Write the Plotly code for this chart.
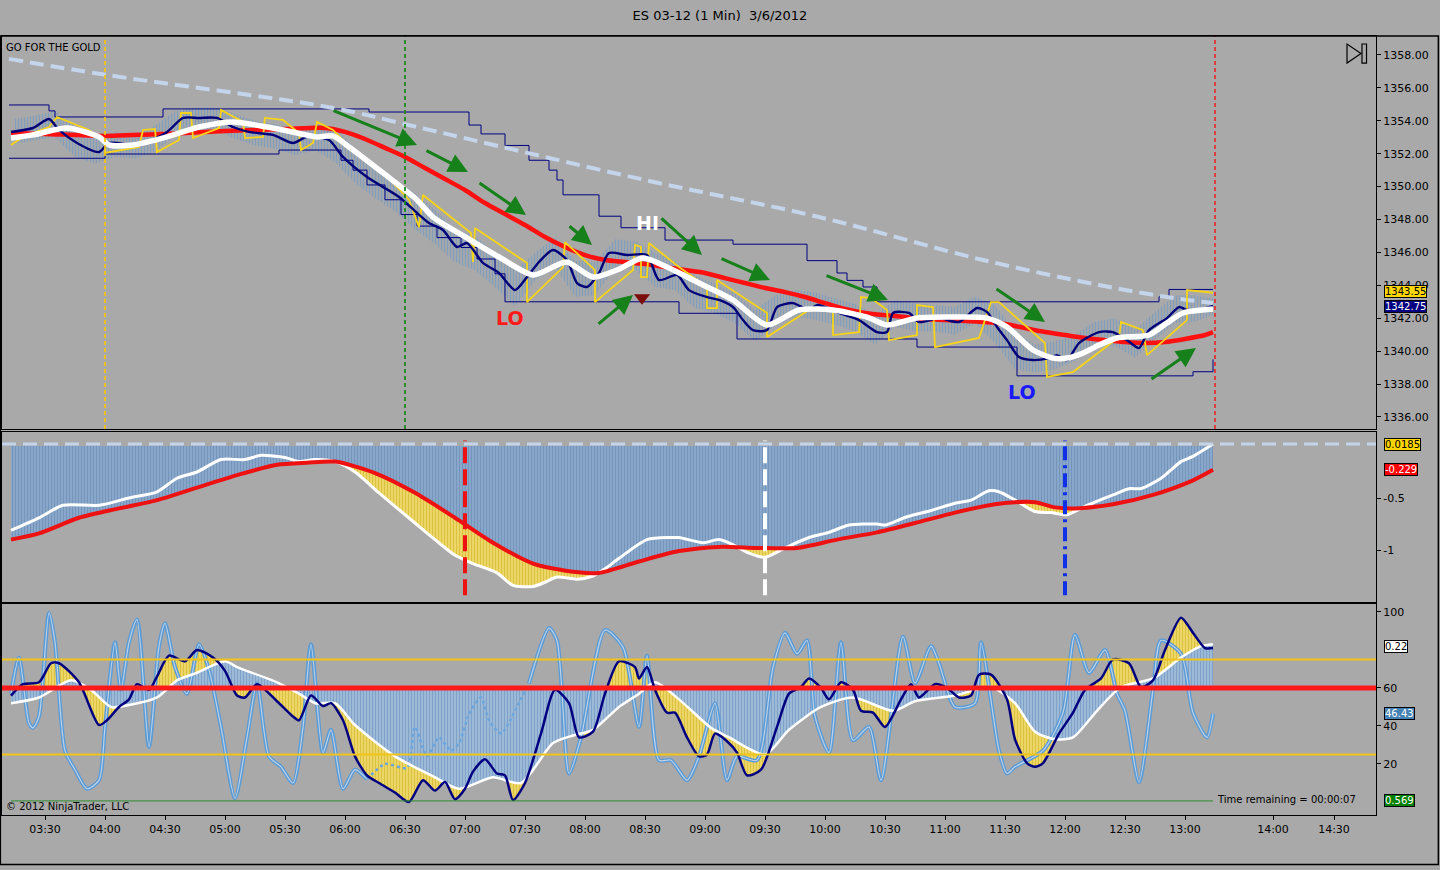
import plotly.graph_objects as go
from plotly.subplots import make_subplots

DAY = "2012-03-06 "

# ---------------- price panel ----------------
nav_t = ["03:13","03:24","03:32","03:37","03:46","03:57","04:02","04:17","04:31","04:39","04:47","04:56","05:04","05:12","05:24","05:34","05:41","05:52","05:59","06:11","06:27","06:36","06:42","06:49","06:56","07:01","07:09","07:17","07:25","07:31","07:37","07:44","07:51","07:56","08:01","08:07","08:12","08:21","08:31","08:37","08:46","08:52","09:01","09:07","09:14","09:19","09:24","09:31","09:36","09:44","09:52","09:56","10:07","10:17","10:26","10:31","10:34","10:42","10:47","10:57","11:07","11:16","11:21","11:26","11:31","11:37","11:44","11:52","11:56","12:01","12:07","12:17","12:24","12:31","12:37","12:42","12:51","12:57","13:01","13:07","13:14"]
nav_p = [1353.32,1353.56,1354.11,1353.44,1352.65,1352.10,1352.65,1352.53,1353.32,1354.17,1354.17,1354.17,1353.62,1353.32,1353.14,1352.65,1353.02,1352.83,1351.80,1350.58,1349.37,1348.40,1347.79,1347.36,1346.33,1346.57,1345.36,1344.75,1343.71,1344.50,1345.42,1346.15,1345.54,1344.14,1343.90,1344.75,1345.96,1345.84,1345.84,1344.32,1344.63,1343.71,1343.29,1343.11,1342.68,1341.89,1341.28,1341.28,1342.68,1342.92,1342.50,1342.80,1342.32,1341.89,1341.16,1341.16,1342.32,1342.32,1341.77,1342.01,1341.77,1342.62,1342.38,1341.47,1340.67,1339.64,1339.46,1339.58,1339.76,1339.46,1340.49,1341.16,1341.16,1340.67,1340.19,1341.28,1342.01,1342.68,1342.50,1342.50,1342.75]

wht_t = ["03:13","03:24","03:41","03:57","04:02","04:14","04:31","04:47","05:04","05:21","05:29","05:46","05:54","06:02","06:19","06:36","06:44","07:01","07:17","07:34","07:46","07:51","08:04","08:16","08:29","08:41","08:57","09:14","09:31","09:47","10:04","10:21","10:31","10:46","11:02","11:21","11:31","11:44","11:54","12:01","12:09","12:17","12:26","12:42","12:51","12:59","13:14"]
wht_p = [1352.95,1353.14,1353.56,1353.02,1352.53,1352.53,1353.02,1353.62,1353.93,1353.62,1353.44,1353.02,1353.08,1352.41,1350.83,1349.19,1348.15,1346.88,1345.72,1344.63,1345.23,1345.42,1344.50,1344.93,1345.66,1345.11,1344.14,1343.11,1341.59,1342.50,1342.50,1342.07,1341.59,1342.01,1342.07,1342.01,1341.47,1340.07,1339.58,1339.58,1339.88,1340.37,1340.80,1340.98,1341.71,1342.32,1342.56]

red_t = ["03:13","03:30","04:00","04:30","05:00","05:30","05:50","06:00","06:10","06:20","06:30","06:40","06:50","07:00","07:10","07:20","07:30","07:40","07:50","08:00","08:10","08:20","08:30","08:40","08:50","09:00","09:10","09:20","09:30","09:40","09:50","10:00","10:10","10:20","10:30","10:40","10:50","11:00","11:10","11:20","11:30","11:40","11:50","12:00","12:10","12:20","12:30","12:40","12:50","13:00","13:10","13:14"]
red_p = [1353.26,1353.20,1353.08,1353.20,1353.38,1353.50,1353.56,1353.32,1352.89,1352.35,1351.80,1351.13,1350.46,1349.79,1349.00,1348.33,1347.67,1346.94,1346.33,1345.84,1345.54,1345.42,1345.29,1345.11,1344.93,1344.75,1344.44,1344.14,1343.84,1343.59,1343.29,1342.92,1342.56,1342.32,1342.19,1342.07,1341.95,1341.89,1341.83,1341.77,1341.65,1341.40,1341.16,1340.98,1340.80,1340.67,1340.55,1340.49,1340.55,1340.74,1340.98,1341.16]

yel_t = ["03:13","03:19","03:32","03:36","03:52","04:00","04:00","04:17","04:19","04:25","04:26","04:37","04:38","04:43","04:44","04:57","04:58","05:09","05:10","05:19","05:20","05:29","05:37","05:38","05:44","05:46","05:54","06:04","06:19","06:32","06:37","06:39","07:03","07:04","07:05","07:31","07:31","07:49","07:50","08:05","08:05","08:24","08:25","08:28","08:28","08:31","08:32","08:47","09:01","09:01","09:06","09:06","09:31","09:31","09:52","10:04","10:04","10:17","10:18","10:23","10:31","10:32","10:46","10:46","10:54","10:55","11:17","11:23","11:27","11:50","11:51","12:04","12:27","12:28","12:39","12:41","13:01","13:01","13:14"]
yel_p = [1352.53,1353.02,1353.62,1354.23,1353.44,1352.65,1352.04,1352.41,1353.44,1353.50,1352.10,1352.83,1354.47,1354.47,1352.95,1353.56,1354.66,1353.93,1352.95,1353.02,1354.17,1354.05,1353.26,1352.22,1352.65,1353.93,1353.44,1352.22,1350.89,1349.19,1347.54,1349.49,1347.18,1345.42,1347.48,1345.36,1342.98,1345.11,1346.63,1344.93,1342.98,1344.93,1346.45,1346.33,1344.50,1344.50,1346.57,1345.11,1343.90,1342.62,1342.62,1344.32,1342.32,1340.86,1342.50,1342.50,1340.98,1341.16,1343.29,1343.23,1342.50,1340.67,1340.98,1342.80,1342.68,1340.25,1340.80,1342.98,1342.98,1340.49,1338.43,1338.73,1340.86,1341.77,1341.28,1339.76,1341.89,1343.71,1343.55]

chan_up_t = ["03:12","03:32","03:35","04:29","06:12","07:02","07:08","07:20","07:32","07:42","07:46","07:49","08:07","08:18","08:40","09:14","09:51","10:06","10:11","10:19","10:26","12:47","12:52","13:14"]
chan_up_p = [1354.96,1354.60,1354.23,1354.72,1354.53,1353.74,1353.20,1352.50,1351.60,1351.00,1350.40,1349.50,1348.20,1347.50,1346.75,1346.50,1345.50,1344.75,1344.30,1343.90,1343.00,1343.30,1343.75,1343.75]
chan_lo_t = ["03:12","04:00","05:27","05:58","06:04","06:11","06:20","06:28","06:36","06:46","06:58","07:06","07:15","07:20","08:47","09:16","10:46","11:36","13:04","13:14"]
chan_lo_p = [1351.72,1351.98,1352.22,1351.60,1351.00,1350.10,1349.20,1348.30,1347.60,1346.90,1346.30,1345.60,1344.70,1343.00,1342.30,1340.74,1340.25,1338.50,1338.75,1339.50]

dash_t = ["03:12","04:01","05:54","06:36","08:30","09:57","11:19","12:17","12:51","13:14"]
dash_p = [1357.76,1356.78,1354.78,1353.62,1350.40,1348.15,1345.54,1344.02,1343.29,1342.92]

bar_t = ["03:15","03:25","03:35","03:45","03:55","04:05","04:15","04:25","04:35","04:45","04:55","05:05","05:15","05:25","05:35","05:45","05:55","06:05","06:15","06:25","06:35","06:45","06:55","07:05","07:15","07:25","07:35","07:45","07:55","08:05","08:15","08:25","08:35","08:45","08:55","09:05","09:15","09:25","09:35","09:45","09:55","10:05","10:15","10:25","10:35","10:45","10:55","11:05","11:15","11:25","11:35","11:45","11:55","12:05","12:15","12:25","12:35","12:45","12:55","13:05","13:14"]
bar_hi = [1354.1,1354.3,1354.6,1353.6,1352.9,1353.3,1353.2,1353.7,1354.6,1354.8,1354.8,1354.4,1354.0,1353.8,1353.5,1353.8,1353.6,1352.3,1351.2,1350.4,1349.6,1348.6,1347.4,1347.0,1346.0,1344.9,1346.0,1346.9,1345.5,1345.4,1346.8,1346.7,1346.0,1345.5,1344.6,1344.1,1343.5,1342.5,1343.4,1343.7,1343.6,1343.2,1342.9,1342.2,1343.1,1342.9,1342.8,1342.7,1343.3,1342.8,1341.2,1340.4,1340.6,1341.0,1341.8,1342.0,1341.3,1342.4,1343.4,1343.4,1343.2]
bar_lo = [1352.6,1352.8,1353.0,1351.8,1351.4,1351.8,1351.7,1352.1,1353.1,1353.5,1353.5,1352.9,1352.5,1352.3,1351.9,1352.2,1351.5,1350.2,1349.3,1348.5,1347.4,1346.5,1345.4,1344.9,1343.9,1342.7,1344.3,1345.1,1343.3,1343.4,1345.0,1345.0,1343.9,1343.7,1342.6,1342.3,1341.7,1340.6,1341.5,1342.1,1341.9,1341.6,1341.2,1340.4,1341.5,1341.2,1341.2,1341.0,1341.7,1340.5,1338.9,1338.7,1338.9,1339.4,1340.3,1340.3,1339.6,1340.7,1341.7,1341.8,1342.2]

# ---------------- middle panel ----------------
mid_w_t = ["03:13","03:27","03:39","03:57","04:12","04:26","04:36","04:46","04:58","05:10","05:18","05:30","05:37","05:45","05:55","06:05","06:17","06:35","06:45","06:55","07:04","07:16","07:24","07:34","07:40","07:46","07:56","08:04","08:10","08:17","08:31","08:43","08:47","08:59","09:07","09:14","09:22","09:30","09:40","09:52","10:02","10:12","10:26","10:30","10:41","10:53","11:05","11:13","11:22","11:27","11:35","11:45","11:53","12:01","12:10","12:24","12:32","12:38","12:48","12:58","13:04","13:14"]
mid_w_v = [-0.81,-0.69,-0.57,-0.57,-0.50,-0.44,-0.31,-0.25,-0.13,-0.13,-0.09,-0.11,-0.15,-0.13,-0.15,-0.25,-0.45,-0.74,-0.90,-1.05,-1.13,-1.22,-1.34,-1.35,-1.31,-1.26,-1.28,-1.25,-1.18,-1.08,-0.90,-0.88,-0.88,-0.93,-0.90,-0.95,-1.03,-1.07,-0.98,-0.88,-0.83,-0.76,-0.75,-0.76,-0.68,-0.62,-0.55,-0.52,-0.43,-0.44,-0.52,-0.63,-0.64,-0.66,-0.58,-0.47,-0.41,-0.41,-0.31,-0.15,-0.10,0.0185]
mid_r_t = ["03:13","03:27","03:47","04:07","04:26","04:46","05:06","05:26","05:41","05:55","06:15","06:35","06:55","07:14","07:34","07:54","08:07","08:27","08:47","09:07","09:26","09:46","10:06","10:26","10:45","11:05","11:25","11:35","11:45","11:55","12:05","12:24","12:44","13:04","13:14"]
mid_r_v = [-0.90,-0.84,-0.69,-0.60,-0.52,-0.40,-0.28,-0.18,-0.16,-0.15,-0.26,-0.45,-0.69,-0.93,-1.13,-1.21,-1.22,-1.11,-1.01,-0.97,-0.98,-0.98,-0.90,-0.83,-0.74,-0.64,-0.56,-0.54,-0.54,-0.59,-0.60,-0.56,-0.47,-0.33,-0.229]

# ---------------- lower panel ----------------
osc_n_t = ["03:13","03:19","03:27","03:33","03:37","03:47","03:57","04:01","04:07","04:12","04:16","04:22","04:26","04:32","04:40","04:46","04:54","05:00","05:06","05:10","05:16","05:26","05:34","05:37","05:43","05:49","05:53","05:59","06:05","06:11","06:17","06:25","06:32","06:39","06:45","06:50","06:55","07:00","07:04","07:10","07:16","07:20","07:24","07:30","07:38","07:45","07:52","07:57","08:04","08:10","08:17","08:25","08:27","08:31","08:35","08:41","08:45","08:51","08:57","09:01","09:05","09:11","09:16","09:21","09:28","09:36","09:42","09:48","09:52","09:58","10:02","10:08","10:14","10:18","10:24","10:30","10:38","10:43","10:47","10:55","11:01","11:07","11:13","11:17","11:23","11:31","11:35","11:41","11:45","11:49","11:57","12:04","12:10","12:18","12:24","12:32","12:38","12:44","12:50","12:58","13:04","13:10","13:14"]
osc_n_v = [56,62,63,73,73,63,40.5,43,50,54,62,59,66,77,74,80,76,69,56,55,62,53,45,43,56,50.5,52,43,24,14,10,5,0,11.5,6,10.5,1.5,7,16,22.5,15,14,1,10,36,59,52,34,37,57,74,71,65,71,59,47,47,34,24,25,36,32,26,14,17,39.5,57,60.5,65,60,54,63,59,48,47,39.5,54,62,55,62,60,55,56,67,67,54,33,20.5,18.5,20.5,36,47,59,65,75,73,60.5,64,80,97,89,81,81]
osc_w_t = ["03:13","03:27","03:43","03:53","04:03","04:12","04:26","04:36","04:46","05:00","05:06","05:26","05:37","05:45","05:55","06:05","06:25","06:45","06:57","07:14","07:28","07:44","07:54","08:04","08:17","08:27","08:35","08:47","09:03","09:12","09:30","09:42","09:58","10:14","10:34","10:45","11:05","11:23","11:35","11:45","11:55","12:04","12:16","12:28","12:44","12:58","13:08","13:14"]
osc_w_v = [52,55,64,59,50,51,55,64,68,74,71,63,57,52,52,40.5,24,13,7,13,10,31,35,38,50,57,63,54,39,34,25,38,50,55,48,53,56,60.5,52,37,33,34,48,60.5,65,76,82,83]

fast_a_t = ["03:13","03:17","03:22","03:24","03:27","03:32","03:35","03:40","03:45","03:51","03:57","04:00","04:05","04:08","04:12","04:16","04:22","04:27","04:30","04:35","04:41","04:47","04:52","04:58","05:05","05:11","05:16","05:22","05:28","05:34","05:39","05:43","05:49","05:53","05:59","06:05","06:11"]
fast_a_v = [57,76,41.5,39,45,99.5,84,27,17,7,11.5,39.5,84,59,84,96,29,82,94,71,57,83,69.5,39.5,2,34,62.5,24,18.5,10,39.5,83,26,38,7,17,12]
fast_dot_t = ["06:11","06:20","06:31","06:35","06:41","06:47","06:53","06:57","07:02","07:08","07:12","07:18","07:25","07:32"]
fast_dot_v = [12,20,18,39.5,24,34,27,31,46,55,43,36,48,62.5]
fast_b_t = ["07:32","07:42","07:46","07:52","07:58","08:10","08:19","08:27","08:31","08:37","08:43","08:51","08:57","09:05","09:11","09:16","09:26","09:34","09:40","09:46","09:51","09:55","10:02","10:08","10:14","10:22","10:28","10:39","10:45","10:53","10:57","11:05","11:15","11:18","11:27","11:31","11:35","11:49","11:59","12:05","12:12","12:20","12:26","12:30","12:37","12:44","12:48","12:58","13:04","13:11","13:14"]
fast_b_v = [62.5,91.5,85,15,34,90.5,81.5,39.5,77,22,22,11.5,24,52,11.5,24,22,71,89,78,85,45,26,84,32.5,39.5,11.5,87,62.5,82,73,50,52,84,27,15,18.5,27,47,88,68,80,57,48,10.5,59,85,78,47,34,46.43]

tick_pos = ["03:30","04:00","04:30","05:00","05:30","06:00","06:30","07:00","07:30","08:00","08:30","09:00","09:30","10:00","10:30","11:00","11:30","12:00","12:30","13:00","13:44","14:14:30"]
tick_txt = ["03:30","04:00","04:30","05:00","05:30","06:00","06:30","07:00","07:30","08:00","08:30","09:00","09:30","10:00","10:30","11:00","11:30","12:00","12:30","13:00","14:00","14:30"]


def ts(lst):
    return [DAY + s for s in lst]


BG = "#a9a9a9"
FONT = "DejaVu Sans"
SM = 0.7  # spline smoothing for the indicator curves

fig = make_subplots(rows=3, cols=1, shared_xaxes=True, vertical_spacing=0.004)

# ---- top panel ----
fig.add_trace(go.Scatter(x=ts(bar_t), y=bar_hi, mode="lines", line=dict(width=0),
                         hoverinfo="skip"), row=1, col=1)
fig.add_trace(go.Scatter(x=ts(bar_t), y=bar_lo, mode="lines", line=dict(width=0),
                         fill="tonexty", fillcolor="rgba(0,0,0,0)",
                         fillpattern=dict(shape="|", fgcolor="#5d93cf", bgcolor="rgba(0,0,0,0)",
                                          size=3, solidity=0.45),
                         hoverinfo="skip"), row=1, col=1)
for tt, pp in ((chan_up_t, chan_up_p), (chan_lo_t, chan_lo_p)):
    fig.add_trace(go.Scatter(x=ts(tt), y=pp, mode="lines", line=dict(color="#000080", width=1, shape="hv")),
                  row=1, col=1)
fig.add_trace(go.Scatter(x=ts(dash_t), y=dash_p, mode="lines",
                         line=dict(color="#c4d4ea", width=4, dash="14px,7px", shape="spline")), row=1, col=1)
fig.add_trace(go.Scatter(x=ts(red_t), y=red_p, mode="lines",
                         line=dict(color="#ff1010", width=4.5, shape="spline", smoothing=SM)), row=1, col=1)
fig.add_trace(go.Scatter(x=ts(yel_t), y=yel_p, mode="lines", line=dict(color="#f7d417", width=1.8)),
              row=1, col=1)
fig.add_trace(go.Scatter(x=ts(nav_t), y=nav_p, mode="lines",
                         line=dict(color="#000078", width=2.4, shape="spline", smoothing=SM)), row=1, col=1)
fig.add_trace(go.Scatter(x=ts(wht_t), y=wht_p, mode="lines",
                         line=dict(color="#ffffff", width=5.5, shape="spline", smoothing=SM)), row=1, col=1)
fig.add_trace(go.Scatter(x=[DAY + "08:28:30"], y=[1343.25], mode="markers",
                         marker=dict(symbol="triangle-down", size=14, color="#7a0c0c")), row=1, col=1)

# ---- middle panel ----
fig.add_trace(go.Scatter(x=ts(mid_w_t), y=mid_w_v, mode="lines",
                         line=dict(width=0, shape="spline", smoothing=SM), hoverinfo="skip"), row=2, col=1)
fig.add_trace(go.Scatter(x=ts(mid_r_t), y=mid_r_v, mode="lines",
                         line=dict(width=0, shape="spline", smoothing=SM), fill="tonexty",
                         fillcolor="#e9d25e",
                         fillpattern=dict(shape="|", fgcolor="#c9a91c", bgcolor="#ecd766", size=3, solidity=0.35),
                         hoverinfo="skip"), row=2, col=1)
fig.add_trace(go.Scatter(x=ts(mid_r_t), y=[0] * len(mid_r_t), mode="lines", line=dict(width=0),
                         hoverinfo="skip"), row=2, col=1)
fig.add_trace(go.Scatter(x=ts(mid_r_t), y=mid_r_v, mode="lines",
                         line=dict(width=0, shape="spline", smoothing=SM), fill="tonexty",
                         fillcolor="#86a6c8",
                         fillpattern=dict(shape="|", fgcolor="#5a7ca3", bgcolor="#8eadcf", size=3, solidity=0.5),
                         hoverinfo="skip"), row=2, col=1)
fig.add_trace(go.Scatter(x=ts(mid_w_t), y=mid_w_v, mode="lines",
                         line=dict(color="#ffffff", width=3, shape="spline", smoothing=SM)), row=2, col=1)
fig.add_trace(go.Scatter(x=ts(mid_r_t), y=mid_r_v, mode="lines",
                         line=dict(color="#ee1111", width=4, shape="spline", smoothing=SM)), row=2, col=1)

# ---- lower panel ----
fig.add_trace(go.Scatter(x=ts(osc_n_t), y=osc_n_v, mode="lines",
                         line=dict(width=0, shape="spline", smoothing=SM), hoverinfo="skip"), row=3, col=1)
fig.add_trace(go.Scatter(x=ts(osc_w_t), y=osc_w_v, mode="lines",
                         line=dict(width=0, shape="spline", smoothing=SM), fill="tonexty",
                         fillcolor="#e9d25e",
                         fillpattern=dict(shape="|", fgcolor="#c9a91c", bgcolor="#ecd766", size=3, solidity=0.35),
                         hoverinfo="skip"), row=3, col=1)
fig.add_trace(go.Scatter(x=ts(osc_w_t), y=[60] * len(osc_w_t), mode="lines", line=dict(width=0),
                         hoverinfo="skip"), row=3, col=1)
fig.add_trace(go.Scatter(x=ts(osc_w_t), y=osc_w_v, mode="lines",
                         line=dict(width=0, shape="spline", smoothing=SM), fill="tonexty",
                         fillcolor="#8fb0d3",
                         fillpattern=dict(shape="|", fgcolor="#5984b5", bgcolor="#a6c1dd", size=3, solidity=0.5),
                         hoverinfo="skip"), row=3, col=1)
for tt, vv in ((fast_a_t, fast_a_v), (fast_b_t, fast_b_v)):
    fig.add_trace(go.Scatter(x=ts(tt), y=vv, mode="lines",
                             line=dict(color="#5b9bd5", width=4, shape="spline", smoothing=SM)), row=3, col=1)
    fig.add_trace(go.Scatter(x=ts(tt), y=vv, mode="lines",
                             line=dict(color="#bcd2e8", width=1.2, shape="spline", smoothing=SM)), row=3, col=1)
fig.add_trace(go.Scatter(x=ts(fast_dot_t), y=fast_dot_v, mode="lines",
                         line=dict(color="#6aa6dc", width=2.5, dash="dot", shape="spline", smoothing=SM)),
              row=3, col=1)
fig.add_trace(go.Scatter(x=ts(osc_w_t), y=osc_w_v, mode="lines",
                         line=dict(color="#ffffff", width=2.5, shape="spline", smoothing=SM)), row=3, col=1)
fig.add_trace(go.Scatter(x=ts(osc_n_t), y=osc_n_v, mode="lines",
                         line=dict(color="#000080", width=2.5, shape="spline", smoothing=SM)), row=3, col=1)

# ---- reference lines ----
vlines_top = [("04:00", "#f2c418"), ("06:30", "#1f8a1f"), ("13:15", "#e23333")]
for t, c in vlines_top:
    fig.add_shape(type="line", xref="x", yref="y domain", x0=DAY + t, x1=DAY + t, y0=0, y1=1,
                  line=dict(color=c, width=1.8, dash="4px,3px"))
vlines_mid = [("07:00", "#ee1111", "16px,6px"), ("09:30", "#ffffff", "16px,6px"),
              ("12:00", "#1030e8", "14px,5px,3px,5px")]
for t, c, d in vlines_mid:
    fig.add_shape(type="line", xref="x2", yref="y2 domain", x0=DAY + t, x1=DAY + t, y0=0.04, y1=0.95,
                  line=dict(color=c, width=4, dash=d))
fig.add_shape(type="line", xref="x2 domain", yref="y2", x0=0, x1=1, y0=0.0185, y1=0.0185,
              line=dict(color="#c4d4ea", width=3, dash="14px,7px"))
for yv, c, w in ((75, "#f2c418", 2), (25, "#f2c418", 2), (60, "#ff1a1a", 5)):
    fig.add_shape(type="line", xref="x3 domain", yref="y3", x0=0, x1=1, y0=yv, y1=yv,
                  line=dict(color=c, width=w))
fig.add_shape(type="line", xref="x3", yref="y3", x0=DAY + "03:13", x1=DAY + "13:14", y0=0.569, y1=0.569,
              line=dict(color="#2e8b2e", width=1))

# ---- arrows & labels on price panel ----
arrows = [("06:36", 1352.53, -85, -35), ("07:01:30", 1350.89, -43, -22), ("07:30:30", 1348.27, -48, -33),
          ("08:03:30", 1346.45, -24, -20), ("08:24", 1343.41, -36, 30), ("08:58:30", 1345.84, -42, -38),
          ("09:32:30", 1344.32, -50, -22), ("10:31:30", 1343.11, -63, -25), ("11:50", 1341.77, -50, -34),
          ("13:05:30", 1340.19, -46, 32)]
for t, p, ax, ay in arrows:
    fig.add_annotation(x=DAY + t, y=p, xref="x", yref="y", ax=ax, ay=ay, text="", showarrow=True,
                       arrowhead=2, arrowsize=1.3, arrowwidth=3, arrowcolor="#16801a")
for txt, t, p, c in (("LO", "07:22:30", 1342.0, "#ff1a1a"), ("HI", "08:31", 1347.8, "#ffffff"),
                     ("LO", "11:38:30", 1337.5, "#1a1aff")):
    fig.add_annotation(x=DAY + t, y=p, xref="x", yref="y", text="<b>" + txt + "</b>", showarrow=False,
                       font=dict(family=FONT, size=19, color=c))

# ---- value flags on the right ----
flags = [("y", 1343.55, "1343.55", "#ffd700", "black", 1), ("y", 1342.75, "1342.75", "#000080", "white", -1),
         ("y2", 0.0185, "0.0185", "#ffd700", "black", 0), ("y2", -0.229, "-0.229", "#ff0000", "white", 0),
         ("y3", 82, "0.22", "#ffffff", "black", 0), ("y3", 46.43, "46.43", "#4682b4", "white", 0),
         ("y3", 0.569, "0.569", "#008000", "white", 0)]
for yr, v, txt, bg, fc, dy in flags:
    fig.add_annotation(x=1, y=v, xref="paper", yref=yr, xanchor="left", xshift=8, yshift=dy, text=txt,
                       showarrow=False, bgcolor=bg, bordercolor="black", borderwidth=1, borderpad=0,
                       font=dict(family=FONT, size=10, color=fc))

fig.add_annotation(x=0.0015, y=0.995, xref="paper", yref="paper", xanchor="left", yanchor="top",
                   text="GO FOR THE GOLD", showarrow=False, font=dict(family=FONT, size=10, color="black"))
fig.add_annotation(x=0.0015, y=0.0103, xref="paper", yref="paper", xanchor="left", yanchor="middle",
                   text="© 2012 NinjaTrader, LLC", showarrow=False, font=dict(family=FONT, size=10, color="black"))
fig.add_annotation(x=0.8828, y=0.0193, xref="paper", yref="paper", xanchor="left", yanchor="middle",
                   text="Time remaining = 00:00:07", showarrow=False, font=dict(family=FONT, size=10, color="black"))

# "jump to end" icon
fig.add_shape(type="path", xref="paper", yref="paper", path="M 0.9789 0.9897 L 0.9789 0.9653 L 0.9891 0.9775 Z",
              line=dict(color="black", width=1.2))
fig.add_shape(type="rect", xref="paper", yref="paper", x0=0.9898, x1=0.9931, y0=0.9653, y1=0.9897,
              line=dict(color="black", width=1.2))
# outer frame
fig.add_shape(type="rect", xref="paper", yref="paper", x0=-0.0012, x1=1.0454, y0=-0.0635, y1=1.0,
              line=dict(color="black", width=1.5))

# ---- axes ----
xr = [DAY + "03:08:30", DAY + "14:35:30"]
fig.update_xaxes(range=xr, showgrid=False, zeroline=False, showline=True, mirror=True,
                 linecolor="black", linewidth=1, ticks="", tickvals=ts(tick_pos), ticktext=tick_txt)
fig.update_xaxes(ticks="outside", ticklen=4, tickcolor="black",
                 tickfont=dict(family=FONT, size=11, color="black"), row=3, col=1)
fig.update_yaxes(side="right", showgrid=False, zeroline=False, showline=True, mirror=True,
                 linecolor="black", linewidth=1, ticks="outside", ticklen=4, tickcolor="black",
                 tickfont=dict(family=FONT, size=11, color="black"))
fig.update_layout(
    yaxis=dict(domain=[0.4955, 1.0], range=[1335.27, 1359.15], tickvals=list(range(1336, 1360, 2)),
               tickformat=".2f"),
    yaxis2=dict(domain=[0.2734, 0.4917], range=[-1.5, 0.135], tickvals=[-1, -0.5], ticktext=["-1", "-0.5"]),
    yaxis3=dict(domain=[0.0, 0.2709], range=[-6.84, 104.2], tickvals=[20, 40, 60, 100]),
)

fig.update_layout(
    width=1440, height=870,
    margin=dict(l=2, r=64, t=36, b=55),
    paper_bgcolor=BG, plot_bgcolor=BG,
    showlegend=False,
    title=dict(text="ES 03-12 (1 Min)  3/6/2012", x=0.5, y=0.982, xanchor="center", yanchor="middle",
               font=dict(family=FONT, size=13, color="black")),
    font=dict(family=FONT, color="black"),
)

fig.write_html("out.html", config={"displayModeBar": False},
               post_script="document.body.style.margin='0';document.body.style.overflow='hidden';")
